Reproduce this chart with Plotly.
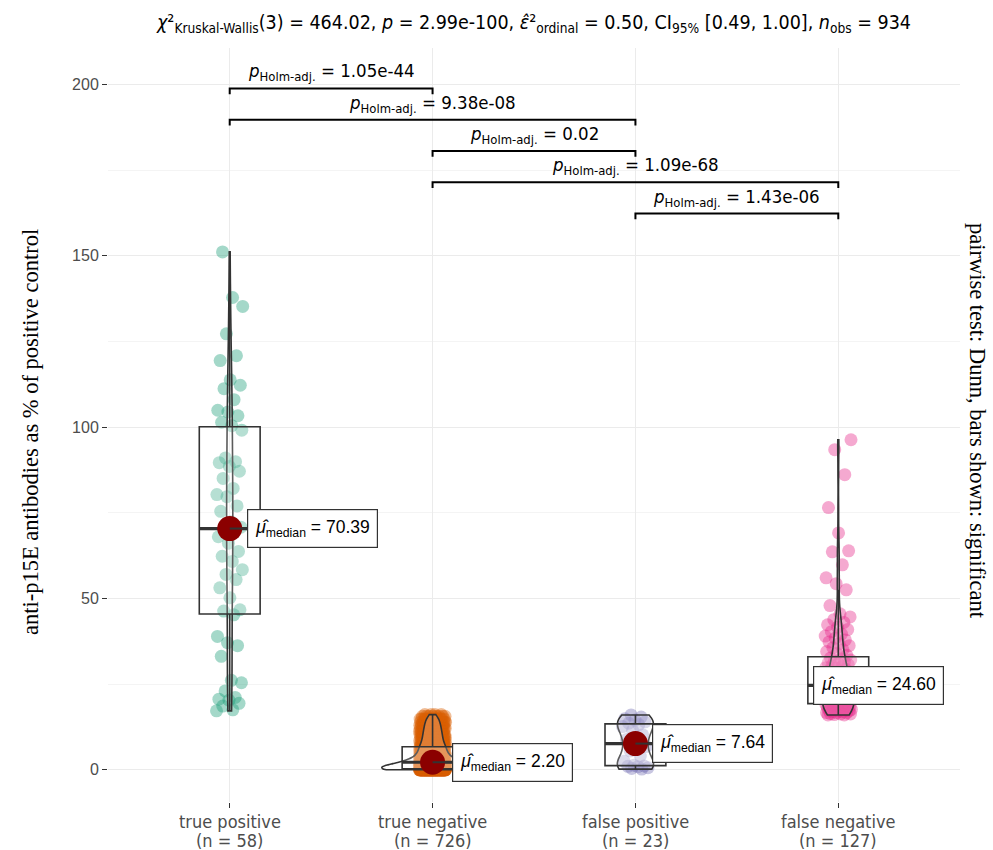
import numpy as np
import plotly.graph_objects as go

# ---------------- data ----------------
categories = ["true positive", "true negative", "false positive", "false negative"]
group_colors = ["#1B9E77", "#D95F02", "#7570B3", "#E7298A"]

tp_values = [17.2, 17.5, 18.6, 19.4, 20.3, 20.6, 21.1, 23.0, 25.4, 26.1, 33.1, 36.2, 37.1, 38.9, 45.2,
             46.3, 46.7, 50.2, 53.1, 55.5, 57.0, 58.4, 60.8, 62.3, 63.7, 66.1, 68.0, 69.5, 70.0,
             70.78, 72.4, 75.4, 77.0, 79.7, 80.3, 82.1, 85.0, 87.1, 88.5, 89.6, 89.9, 91.0, 99.1,
             100.4, 101.4, 103.3, 104.4, 104.9, 108.0, 111.2, 112.2, 113.8, 119.4, 120.8, 127.2,
             135.2, 137.8, 151.1]

# true negative: value levels and how many observations sit at each level
tn_levels = [0.0, 0.3, 0.8, 1.3, 1.8, 2.2, 2.8, 3.5, 4.2, 5.0, 5.8, 6.7,
             7.6, 8.5, 9.4, 10.3, 11.2, 12.1, 13.0, 13.9, 14.8, 15.6, 16.1]
tn_counts = [150, 60, 45, 45, 50, 30, 30, 30, 28, 27, 25, 30,
             22, 22, 20, 20, 18, 18, 16, 15, 13, 8, 4]

fp_values = [0.2, 0.4, 0.6, 0.9, 1.0, 1.1, 1.3, 2.5, 4.0, 5.5, 6.8, 7.64,
             8.8, 10.2, 11.5, 12.6, 13.2, 13.6, 14.0, 14.5, 14.9, 15.4, 16.0]

fn_values = [16.0, 16.0, 16.1, 16.3, 16.3, 16.4, 16.6, 16.7, 16.7, 16.9, 17.0, 17.2, 17.2, 17.3,
             17.5, 17.6, 17.6, 17.8, 17.9, 18.0, 18.1, 18.1, 18.3, 18.4, 18.5, 18.5, 18.7, 18.8,
             18.9, 19.0, 19.1, 19.2,
             19.4, 19.5, 19.7, 19.8, 20.0, 20.1, 20.3, 20.4, 20.6, 20.8, 20.9, 21.1, 21.2, 21.4,
             21.6, 21.7, 21.9, 22.1, 22.2, 22.4, 22.6, 22.7, 22.9, 23.1, 23.2, 23.4, 23.6, 23.8,
             24.0, 24.2, 24.5,
             24.6,
             24.8, 25.0, 25.3, 25.5, 25.7, 26.0, 26.2, 26.5, 26.7, 27.0, 27.2, 27.5, 27.7, 28.0,
             28.2, 28.5, 28.8, 29.0, 29.3, 29.6, 29.8, 30.1, 30.4, 30.7, 30.9, 31.2, 31.5, 31.7,
             32.0, 32.3, 32.6,
             33.4, 33.9, 34.5, 35.0, 35.6, 36.2, 36.8, 37.3, 37.9, 38.4, 39.0, 39.6, 40.3, 40.9,
             41.6, 42.3, 43.0, 43.8,
             44.6, 45.5, 47.9, 52.5, 54.3, 56.0, 59.8, 63.6, 63.9, 69.1, 76.5, 86.1, 93.4, 96.3]

# pairwise comparisons (Dunn, Holm-adjusted), top bracket first
pair_groups = [(0, 1), (0, 2), (1, 2), (1, 3), (2, 3)]
pair_p_text = ["1.05e-44", "9.38e-08", "0.02", "1.09e-68", "1.43e-06"]

subtitle = ("<i>χ</i>²<sub>Kruskal-Wallis</sub>(3) = 464.02, <i>p</i> = 2.99e-100, "
            "<i>ε̂</i>²<sub>ordinal</sub> = 0.50, CI<sub>95%</sub> [0.49, 1.00], "
            "<i>n</i><sub>obs</sub> = 934")
y_title = "anti-p15E antibodies as % of positive control"
right_title = "pairwise test: Dunn, bars shown: significant"

# ---------------- layout constants ----------------
W, H = 993, 850
ML, MR, MT, MB = 108, 33, 48, 48
PW, PH = W - ML - MR, H - MT - MB
X_RANGE = [0.4, 4.6]
Y_RANGE = [-9.4, 210.6]
PPU = PW / (X_RANGE[1] - X_RANGE[0])  # pixels per x unit
label_xshift = [17, 19, 17, -25]
bracket_top, bracket_step, bracket_tip = 198.8, 9.125, 1.7

SANS = "Liberation Sans, Arial, sans-serif"
NARROW = "Liberation Sans Narrow, Arial Narrow, DejaVu Sans Condensed, sans-serif"
SERIF = "Liberation Serif, Times New Roman, serif"

groups = [np.asarray(tp_values, float),
          np.repeat(np.asarray(tn_levels, float), tn_counts),
          np.asarray(fp_values, float),
          np.asarray(fn_values, float)]


def bw_nrd0(v):
    sd = v.std(ddof=1)
    q75, q25 = np.percentile(v, [75, 25])
    lo = min(sd, (q75 - q25) / 1.34)
    if lo <= 0:
        lo = sd if sd > 0 else 1.0
    return 0.9 * lo * len(v) ** -0.2


def max_density(v, bw):
    g = np.linspace(v.min(), v.max(), 512)
    d = np.exp(-0.5 * ((g[:, None] - v[None, :]) / bw) ** 2).sum(1) / (len(v) * bw * np.sqrt(2 * np.pi))
    return d.max()


bws = [bw_nrd0(v) for v in groups]
maxd = [max_density(v, b) for v, b in zip(groups, bws)]
vwidth = [0.5 * m / max(maxd) for m in maxd]

fig = go.Figure()

# jittered points (base subplot -> drawn underneath)
golden = 0.6180339887
for i, v in enumerate(groups):
    k = np.arange(len(v))
    jit = ((k * golden + 0.37 * i) % 1.0 - 0.5) * 2 * 0.065
    fig.add_trace(go.Scatter(x=(i + 1) + jit, y=v, mode="markers",
                             marker=dict(size=13, color=group_colors[i], opacity=0.4, line=dict(width=0)),
                             hoverinfo="skip", showlegend=False, xaxis="x", yaxis="y"))

stats = []
for i, v in enumerate(groups):
    q1, med, q3 = np.percentile(v, [25, 50, 75])
    iqr = q3 - q1
    lf = v[v >= q1 - 1.5 * iqr].min()
    uf = v[v <= q3 + 1.5 * iqr].max()
    stats.append((q1, med, q3, lf, uf))
    fig.add_trace(go.Violin(x0=i + 1, y=v, width=vwidth[i], scalemode="width", spanmode="hard",
                            bandwidth=bws[i], points=False, box_visible=False, meanline_visible=False,
                            line=dict(color="#333333", width=1.6), fillcolor="rgba(255,255,255,0.2)",
                            hoverinfo="skip", showlegend=False, xaxis="x2", yaxis="y2"))
    fig.add_trace(go.Box(x=[i + 1], q1=[q1], median=[med], q3=[q3], lowerfence=[lf], upperfence=[uf],
                         width=0.3, whiskerwidth=0, boxpoints=False,
                         line=dict(color="#333333", width=1.6), fillcolor="rgba(255,255,255,0.2)",
                         hoverinfo="skip", showlegend=False, xaxis="x2", yaxis="y2"))

for i, (q1, med, q3, lf, uf) in enumerate(stats):
    cx = i + 1
    fig.add_trace(go.Scatter(x=[cx - 0.15, cx + 0.15], y=[med, med], mode="lines",
                             line=dict(color="#333333", width=3.2), hoverinfo="skip",
                             showlegend=False, xaxis="x2", yaxis="y2"))
    fig.add_trace(go.Scatter(x=[cx], y=[med], mode="markers",
                             marker=dict(size=25, color="#8B0000", line=dict(width=0)),
                             hoverinfo="skip", showlegend=False, xaxis="x2", yaxis="y2"))
    if label_xshift[i] > 0:
        fig.add_trace(go.Scatter(x=[cx, cx + label_xshift[i] / PPU], y=[med, med], mode="lines",
                                 line=dict(color="#333333", width=2), hoverinfo="skip",
                                 showlegend=False, xaxis="x2", yaxis="y2"))
    fig.add_annotation(x=cx, y=med, xref="x2", yref="y2", xanchor="left", yanchor="middle",
                       xshift=label_xshift[i], showarrow=False,
                       text=f"<i>μ̂</i><sub>median</sub> = {med:.2f}",
                       font=dict(family=SANS, size=17.5, color="black"),
                       bgcolor="white", bordercolor="#333333", borderwidth=1.2, borderpad=7)

# significance brackets
for j, ((a, b), ptxt) in enumerate(zip(pair_groups, pair_p_text)):
    lvl = bracket_top - j * bracket_step
    xa, xb = a + 1, b + 1
    fig.add_trace(go.Scatter(x=[xa, xa, xb, xb], y=[lvl - bracket_tip, lvl, lvl, lvl - bracket_tip],
                             mode="lines", line=dict(color="black", width=2),
                             hoverinfo="skip", showlegend=False, xaxis="x2", yaxis="y2"))
    fig.add_annotation(x=(xa + xb) / 2, y=lvl, xref="x2", yref="y2", yanchor="bottom",
                       showarrow=False, yshift=2,
                       text=f"<i>p</i><sub>Holm-adj.</sub> = {ptxt}",
                       font=dict(family=NARROW, size=18.5, color="black"))

# x category labels (two lines, tight line spacing as in the original)
for i, (c, v) in enumerate(zip(categories, groups)):
    for line_txt, off in ((c, 19), (f"(n = {len(v)})", 38)):
        fig.add_annotation(x=i + 1, y=0, xref="x", yref="paper", yanchor="middle", xanchor="center",
                           yshift=-off, showarrow=False, text=line_txt,
                           font=dict(family=NARROW, size=18, color="#4D4D4D"))

axis_common = dict(showline=False, zeroline=False, fixedrange=True, automargin=False)
fig.update_layout(
    width=W, height=H,
    margin=dict(l=ML, r=MR, t=MT, b=MB, pad=0, autoexpand=False),
    paper_bgcolor="white", plot_bgcolor="white",
    showlegend=False,
    xaxis=dict(range=X_RANGE, tickmode="array", tickvals=[1, 2, 3, 4], ticktext=[""] * 4,
               showgrid=True, gridcolor="#EBEBEB", gridwidth=1.3,
               ticks="outside", ticklen=5, tickcolor="#333333", tickwidth=1, **axis_common),
    yaxis=dict(range=Y_RANGE, tickmode="array", tickvals=[0, 50, 100, 150, 200],
               showgrid=True, gridcolor="#EBEBEB", gridwidth=1.3,
               minor=dict(tickvals=[25, 75, 125, 175], showgrid=True, gridcolor="#F4F4F4", gridwidth=1),
               ticks="outside", ticklen=5, tickcolor="#333333", tickwidth=1,
               tickfont=dict(family=SANS, size=16, color="#4D4D4D"), **axis_common),
    xaxis2=dict(range=X_RANGE, overlaying="x", anchor="y2", visible=False, **axis_common),
    yaxis2=dict(range=Y_RANGE, overlaying="y", anchor="x2", visible=False, **axis_common),
    violinmode="overlay", boxmode="overlay", violingap=0, violingroupgap=0,
    title=dict(text=subtitle, x=0.5, xref="paper", xanchor="center",
               y=1 - 22 / H, yref="container", yanchor="middle",
               font=dict(family=NARROW, size=19.5, color="black")),
)

fig.add_annotation(x=(30 - ML) / PW, y=(H - MB - 432) / PH, xref="paper", yref="paper",
                   xanchor="center", yanchor="middle",
                   text=y_title, textangle=-90, showarrow=False,
                   font=dict(family=SERIF, size=22.5, color="black"))
fig.add_annotation(x=(978 - ML) / PW, y=(H - MB - 421) / PH, xref="paper", yref="paper",
                   xanchor="center", yanchor="middle",
                   text=right_title, textangle=90, showarrow=False,
                   font=dict(family=SERIF, size=22.5, color="black"))

fig.write_html("out.html", config={"displayModeBar": False},
               post_script="document.body.style.margin='0px';")
